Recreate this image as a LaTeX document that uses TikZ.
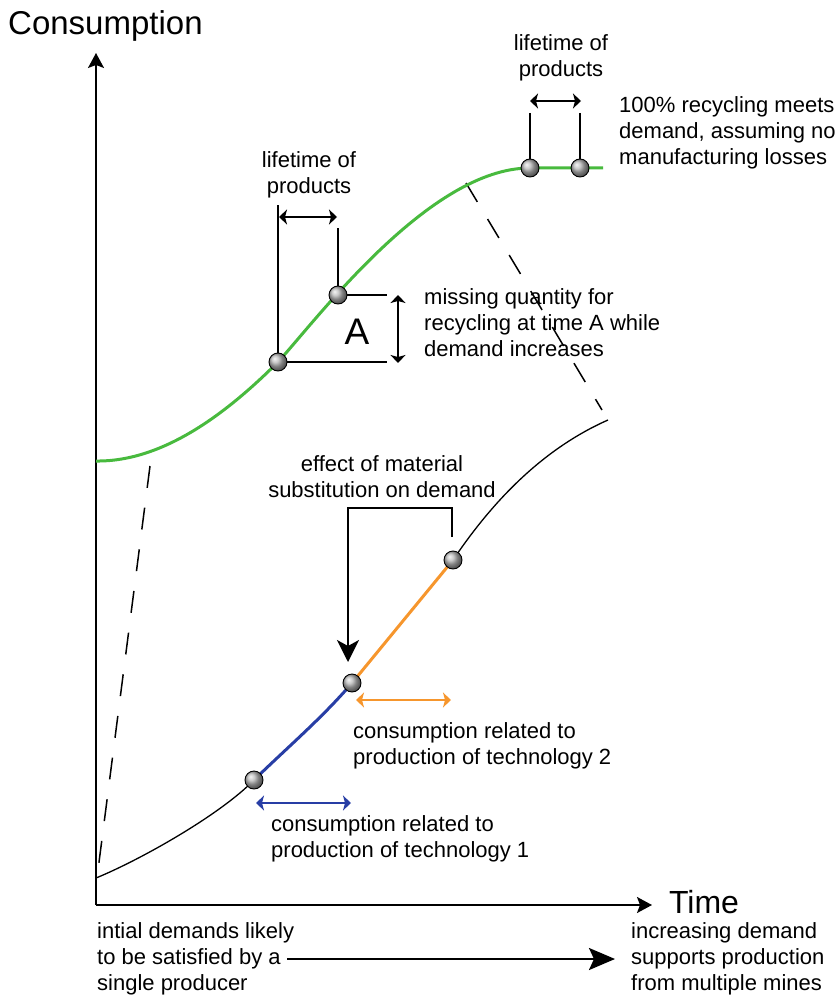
\documentclass[tikz,border=0pt]{standalone}
\usepackage{fontspec}
\setmainfont{Liberation Sans}
\usetikzlibrary{arrows.meta}
\definecolor{cgreen}{RGB}{72,186,62}
\definecolor{cblue}{RGB}{40,62,165}
\definecolor{corange}{RGB}{246,150,45}
\tikzset{
  dot/.style={circle,draw=black,line width=0.9pt,minimum size=18pt,inner sep=0pt,shading=ball,ball color=gray!55},
  lbl/.style={inner sep=0pt,font=\fontsize{22}{26}\selectfont,align=left},
  clbl/.style={inner sep=0pt,font=\fontsize{22}{26}\selectfont,align=center},
  thin line/.style={line width=1.5pt},
  dashline/.style={line width=1.5pt,dash pattern=on 22pt off 20pt},
  axis/.style={line width=1.6pt,-{Stealth[length=15pt,width=16pt,inset=3pt]}},
  dbl/.style={line width=1.6pt,{Stealth[length=8pt,width=15pt,inset=2pt]}-{Stealth[length=8pt,width=15pt,inset=2pt]}},
}
\begin{document}
\begin{tikzpicture}[x=1pt,y=-1pt]
\useasboundingbox (0,0) rectangle (839,1003);

% axes
\coordinate (O) at (96,905);
\coordinate (ytip) at (96,53);
\coordinate (xtip) at (652,905);
\draw[axis] (O) -- (ytip);
\draw[axis] (O) -- (xtip);
\node[anchor=base west,inner sep=0pt,font=\fontsize{33}{36}\selectfont] (ylab) at (8,35) {Consumption};
\node[inner sep=0pt,font=\fontsize{32}{36}\selectfont] (xlab) at (704,902) {Time};

% dots coordinates
\coordinate (g1) at (278,362);
\coordinate (g2) at (338,295);
\coordinate (g3) at (530,168);
\coordinate (g4) at (580,168);
\coordinate (b1) at (254,780);
\coordinate (b2) at (352,683);
\coordinate (b3) at (453,560);

% dashed guide lines
\coordinate (d1s) at (466,183);
\coordinate (d1e) at (602,410);
\coordinate (d2s) at (150,466);
\coordinate (d2e) at (98,870);
\draw[dashline] (d1s) -- (d1e);
\draw[dashline] (d2s) -- (d2e);

% green curve
\coordinate (gs) at (96,461);
\coordinate (ge) at (603,168);
\draw[cgreen,line width=3pt] (gs) .. controls (165,462) and (230,410) .. (g1)
  .. controls (318,318) and (430,168) .. (g3) -- (ge);

% black / blue / orange curve
\coordinate (ks) at (96,878);
\coordinate (ke) at (608,420);
\draw[line width=1.3pt] (ks) .. controls (140,860) and (220,815) .. (b1);
\draw[cblue,line width=3pt] (b1) .. controls (290,745) and (322,718) .. (b2);
\draw[corange,line width=3pt] (b2) -- (b3);
\draw[line width=1.3pt] (b3) .. controls (490,505) and (540,450) .. (ke);

% lower lifetime bracket
\coordinate (l1t) at (278,205);
\coordinate (l2t) at (338,228);
\draw[thin line] (l1t) -- (g1);
\draw[thin line] (l2t) -- (g2);
\coordinate (la1) at (279,217);
\coordinate (la2) at (337,217);
\draw[dbl] (la1) -- (la2);
\node[clbl] (life1) at (309,175) {lifetime of\\products};

% A bracket
\coordinate (h1) at (387,295);
\coordinate (h2) at (387,362);
\draw[thin line] (g2) -- (h1);
\draw[thin line] (g1) -- (h2);
\coordinate (va1) at (398,295);
\coordinate (va2) at (398,363);
\draw[dbl] (va1) -- (va2);
\node[inner sep=0pt,font=\fontsize{37}{40}\selectfont] (A) at (357,332) {A};
\node[lbl,anchor=west] (miss) at (424,323) {missing quantity for\\recycling at time A while\\demand increases};

% upper lifetime bracket
\coordinate (u1t) at (530,113);
\coordinate (u2t) at (580,113);
\draw[thin line] (u1t) -- (g3);
\draw[thin line] (u2t) -- (g4);
\coordinate (ua1) at (530,101);
\coordinate (ua2) at (581,101);
\draw[dbl] (ua1) -- (ua2);
\node[clbl] (life2) at (561,58) {lifetime of\\products};
\node[lbl,anchor=west] (full) at (619,133) {100\% recycling meets\\demand, assuming no\\manufacturing losses};

% substitution bracket
\coordinate (s1) at (452,537);
\coordinate (s2) at (452,508);
\coordinate (s3) at (348,508);
\coordinate (s4) at (348,662);
\draw[line width=2pt,-{Stealth[length=22pt,width=22pt,inset=6pt]}] (s1) -- (s2) -- (s3) -- (s4);
\node[clbl] (subst) at (382,477) {effect of material\\substitution on demand};

% technology ranges
\coordinate (o1) at (356,700);
\coordinate (o2) at (451,700);
\draw[dbl,corange,line width=2pt] (o1) -- (o2);
\node[lbl,anchor=west] (tech2) at (353,746) {consumption related to\\production of technology 2};
\coordinate (bl1) at (256,803);
\coordinate (bl2) at (351,803);
\draw[dbl,cblue,line width=2pt] (bl1) -- (bl2);
\node[lbl,anchor=west] (tech1) at (271,839) {consumption related to\\production of technology 1};

% dots
\foreach \p in {g1,g2,g3,g4,b1,b2,b3} \node[dot] (n\p) at (\p) {};

% bottom
\node[lbl,anchor=west] (initial) at (97,959) {intial demands likely\\to be satisfied by a\\single producer};
\node[lbl,anchor=west] (multi) at (631,959) {increasing demand\\supports production\\from multiple mines};
\coordinate (bs) at (287,959);
\draw[line width=2.5pt,-{Stealth[length=26pt,width=22pt,inset=5pt]}] (bs) -- ([xshift=-16pt]multi.west);
\end{tikzpicture}
\end{document}
